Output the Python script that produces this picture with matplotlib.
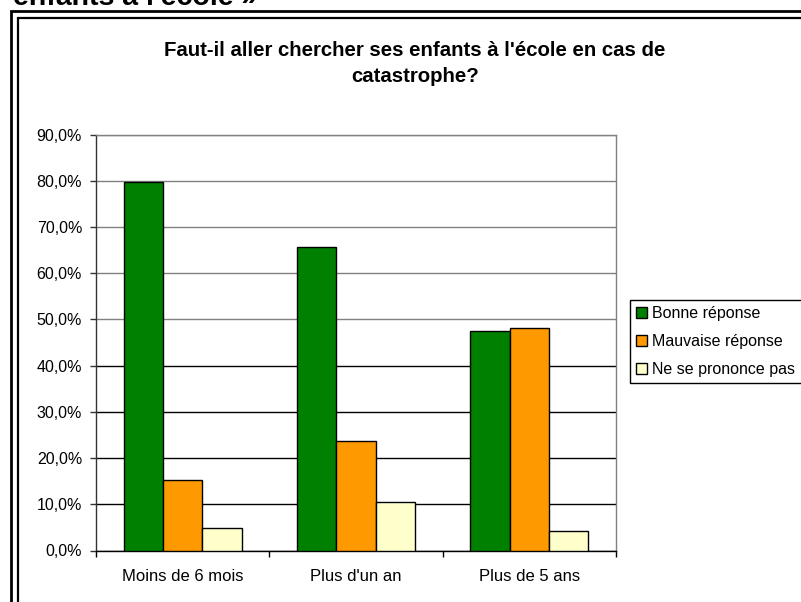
import matplotlib
matplotlib.use('Agg')
import matplotlib.pyplot as plt
from matplotlib.patches import Rectangle

plt.rcParams['font.family'] = ['Liberation Sans', 'DejaVu Sans']

categories = ['Moins de 6 mois', "Plus d'un an", 'Plus de 5 ans']
bonne = [79.8, 65.8, 47.6]
mauvaise = [15.3, 23.6, 48.1]
nsp = [4.8, 10.5, 4.3]
series_names = ['Bonne réponse', 'Mauvaise réponse', 'Ne se prononce pas']
yticks = [0, 10, 20, 30, 40, 50, 60, 70, 80, 90]
ytick_labels = ['0,0%', '10,0%', '20,0%', '30,0%', '40,0%', '50,0%',
                '60,0%', '70,0%', '80,0%', '90,0%']

W, H = 801, 602
fig = plt.figure(figsize=(W / 100, H / 100), dpi=100)

def fx(px):
    return px / W

def fy(py):
    return 1 - py / H

# page heading cut off at the top
fig.text(fx(13), fy(5), "enfants à l'école »", fontsize=20.5, fontweight='bold',
         ha='left', va='baseline')

# double frame round the chart (runs off the right and bottom edges)
fig.patches.append(Rectangle((fx(11), fy(640)), fx(840), fy(11) - fy(640),
                             transform=fig.transFigure, fill=False, lw=2, ec='black'))
fig.patches.append(Rectangle((fx(18), fy(640)), fx(840), fy(18) - fy(640),
                             transform=fig.transFigure, fill=False, lw=1.6, ec='black'))

fig.text(fx(415), fy(56.5), "Faut-il aller chercher ses enfants à l'école en cas de",
         fontsize=14.7, fontweight='bold', ha='center', va='baseline')
fig.text(fx(415), fy(82.5), "catastrophe?",
         fontsize=14.7, fontweight='bold', ha='center', va='baseline')

ax = fig.add_axes([fx(96), fy(550.5), fx(616) - fx(96), fy(134.7) - fy(550.5)])

x = range(len(categories))
w = 0.227
colors = ['#008000', '#FF9900', '#FFFFCC']
for i, (vals, name) in enumerate(zip([bonne, mauvaise, nsp], series_names)):
    ax.bar([k + (i - 1) * w for k in x], vals, width=w, color=colors[i],
           edgecolor='black', linewidth=1, label=name, zorder=3)

ax.set_xlim(-0.5, 2.5)
ax.set_ylim(0, 90)
ax.set_yticks(yticks)
ax.set_yticklabels(ytick_labels)
ax.yaxis.grid(True, lw=1, zorder=0)
for val, gl in zip(yticks, ax.get_ygridlines()):
    gl.set_color('#808080' if val >= 50 else 'black')

ax.set_xticks([-0.5, 0.5, 1.5, 2.5])
ax.set_xticklabels([])
ax.set_xticks(list(x), minor=True)
ax.set_xticklabels(categories, minor=True)
ax.tick_params(axis='x', which='major', length=4.5, width=1, color='black')
ax.tick_params(axis='x', which='minor', length=0, pad=13, labelsize=12)
ax.tick_params(axis='y', length=4.5, width=1, pad=5.5, labelsize=11.5, color='#333333')

ax.spines['top'].set_color('#808080')
ax.spines['right'].set_color('#808080')
ax.spines['left'].set_color('#333333')
ax.spines['bottom'].set_color('black')
for s in ax.spines.values():
    s.set_linewidth(1)

leg = fig.legend(loc='upper left', bbox_to_anchor=(fx(630), fy(300)),
                 fontsize=11.5, frameon=True, fancybox=False, framealpha=1,
                 edgecolor='black', handlelength=0.65, handleheight=0.65,
                 handletextpad=0.35, borderpad=0.4, labelspacing=0.8,
                 borderaxespad=0)
leg.get_frame().set_linewidth(1)

fig.savefig('out.png', dpi=100)
